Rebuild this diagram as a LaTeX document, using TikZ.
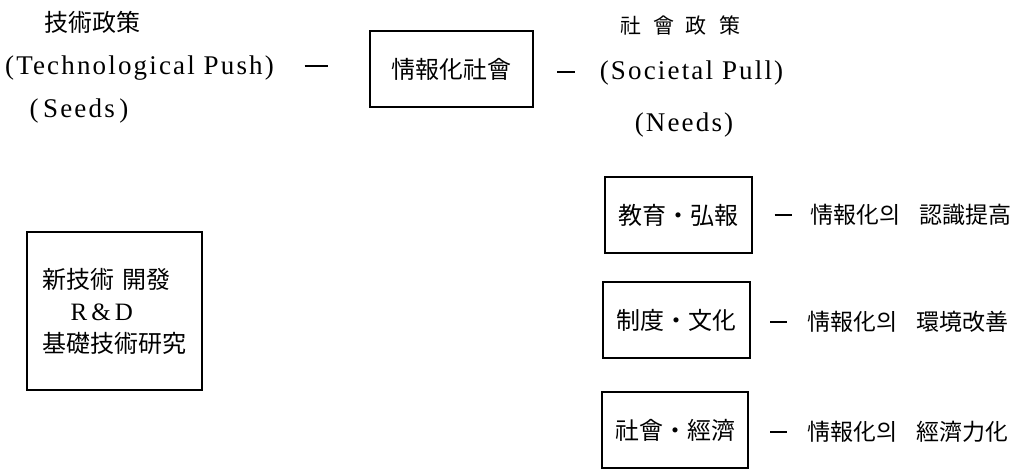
\documentclass[tikz,border=0pt]{standalone}
\usepackage{fontspec}
\setmainfont{Liberation Serif}
\newfontfamily\lat[LetterSpace=8]{Liberation Serif}
\newfontfamily\cjk{Noto Sans CJK KR}
\tikzset{
  box/.style={draw, line width=1.3pt, inner sep=0pt, font=\cjk\fontsize{24}{28}\selectfont},
  lt/.style={font=\lat\fontsize{27}{30}\selectfont, inner sep=0pt},
  ck/.style={font=\cjk\fontsize{23}{28}\selectfont, inner sep=0pt},
  dsh/.style={inner sep=0pt}
}
\begin{document}
\begin{tikzpicture}[x=1pt,y=-1pt]
\useasboundingbox (0,0) rectangle (1019,469);
% top row
\node[ck, font=\cjk\fontsize{24}{28}\selectfont] (tp) at (92,22) {技術政策};
\node[lt] (push) at (139.5,68) {(Technological Push)};
\node[dsh] (d0) at (316,66) {\rule{23pt}{1.6pt}};
\node[lt] (seeds) at (79,111) {(\,Seeds\,)};
\node[box, minimum width=163pt, minimum height=76pt] (soc) at (451.5,69) {情報化社會};
\node[dsh] (d1) at (566,72) {\rule{18pt}{1.6pt}};
\node[ck, font=\cjk\fontsize{21}{24}\selectfont] (sp) at (680,25) {社\hspace{12pt}會\hspace{12pt}政\hspace{12pt}策};
\node[lt] (pull) at (691.5,73) {(Societal Pull)};
\node[lt] (needs) at (684,125) {(Needs)};
% right boxes
\node[box, minimum width=147pt, minimum height=76pt] (e) at (678.5,215) {教育・弘報};
\node[dsh] (de) at (783,215) {\rule{17pt}{1.6pt}};
\node[ck, anchor=west] (te) at (810,215) {情報化의\hspace{19pt}認識提高};
\node[box, minimum width=147pt, minimum height=76pt] (c) at (676.5,320) {制度・文化};
\node[dsh] (dc) at (778.5,322) {\rule{17pt}{1.6pt}};
\node[ck, anchor=west] (tc) at (807,322) {情報化의\hspace{19pt}環境改善};
\node[box, minimum width=146pt, minimum height=76pt] (s) at (675,430) {社會・經濟};
\node[dsh] (ds) at (778.5,432) {\rule{17pt}{1.6pt}};
\node[ck, anchor=west] (ts) at (807,432) {情報化의\hspace{19pt}經濟力化};
% left box
\node[box, minimum width=175pt, minimum height=158pt, align=left, font=\cjk\fontsize{24}{32}\selectfont] (rd) at (114.5,311) {新技術\hspace{8pt}開發\\\hspace{28pt}{\lat\fontsize{25}{32}\selectfont R\,\&\,D}\\基礎技術研究};
\end{tikzpicture}
\end{document}
